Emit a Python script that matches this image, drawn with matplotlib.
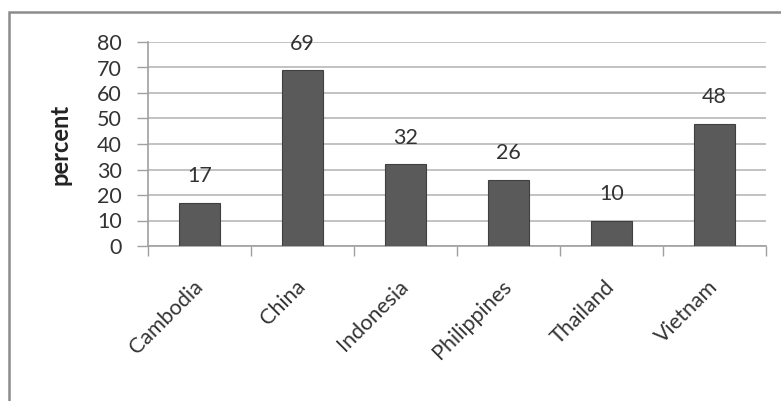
import matplotlib.pyplot as plt
from matplotlib.patches import Rectangle

# chart data
countries = ["Cambodia", "China", "Indonesia", "Philippines", "Thailand", "Vietnam"]
percent = [17, 69, 32, 26, 10, 48]
yticks = [0, 10, 20, 30, 40, 50, 60, 70, 80]

plt.rcParams['font.family'] = ['Lato', 'DejaVu Sans']

fig = plt.figure(figsize=(7.81, 4.01), dpi=100)
ax = fig.add_axes([148 / 781, 1 - 246 / 401, 618 / 781, 204 / 401])

# outer chart border (cut off at right and bottom like the screenshot)
fig.patches.append(Rectangle((9 / 781, -0.1), 1.2, 1 - 12 / 401 + 0.1,
                             transform=fig.transFigure, fill=False,
                             edgecolor='#8c8c8c', linewidth=1.8))

x = list(range(len(countries)))
ax.bar(x, percent, width=0.39, color='#5a5a5a', edgecolor='#404040',
       linewidth=0.8, zorder=3)

for xi, v in zip(x, percent):
    ax.annotate(str(v), (xi, v), xytext=(0, 19), textcoords='offset points',
                ha='center', va='center', fontsize=15.5, color='#333333')

ax.set_xlim(-0.5, len(countries) - 0.5)
ax.set_ylim(0, 80)
ax.set_yticks(yticks)
ax.tick_params(axis='y', labelsize=15.5, colors='#a0a0a0', labelcolor='#333333',
               length=8, width=1, pad=11)
ax.yaxis.grid(True, color='#b8b8b8', linewidth=1.2, zorder=0)

# category ticks sit between the bars
ax.set_xticks([i - 0.5 for i in range(len(countries) + 1)])
ax.set_xticklabels([])
ax.tick_params(axis='x', colors='#a0a0a0', length=7, width=1)
for xi, name in zip(x, countries):
    ax.annotate(name, (xi, 0), xytext=(0, -27), textcoords='offset points',
                ha='right', va='center', rotation=45, rotation_mode='anchor',
                fontsize=15.5, color='#333333')

for side in ['top', 'right']:
    ax.spines[side].set_visible(False)
ax.spines['left'].set_color('#a0a0a0')
ax.spines['bottom'].set_color('#a0a0a0')
ax.spines['left'].set_linewidth(1.2)
ax.spines['bottom'].set_linewidth(1.2)

ax.set_ylabel("percent", fontsize=17, fontweight='bold', color='#222222', labelpad=18)

fig.savefig("out.png", dpi=100)
